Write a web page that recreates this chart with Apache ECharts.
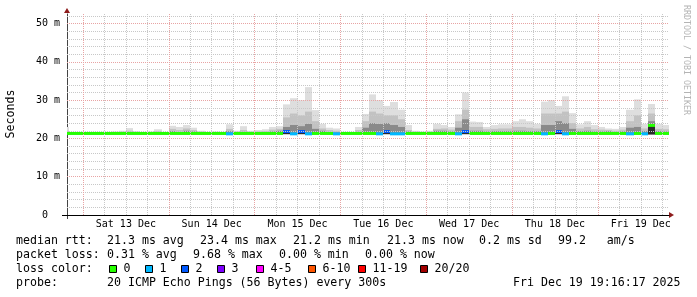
<!DOCTYPE html>
<html><head><meta charset="utf-8">
<script src="https://cdn.jsdelivr.net/npm/echarts@6/dist/echarts.min.js"></script>
<style>html,body{margin:0;padding:0;background:#fff}#c{width:697px;height:297px}</style>
</head><body><div id="c"></div><script>
// ---- axis structure ----
const dayLabels = ['Sat 13 Dec','Sun 14 Dec','Mon 15 Dec','Tue 16 Dec','Wed 17 Dec','Thu 18 Dec','Fri 19 Dec'];
const dayNoonHours = [12, 36, 60, 84, 108, 132, 156];
const dayStartHours = [0, 24, 48, 72, 96, 120, 144];
const yTicks = [0, 10, 20, 30, 40, 50];
const firstBinHour = -6;   // bins of 2 hours, hour 0 = Sat 13 Dec 00:00
const binHours = 2;

// ---- data (ms) per 2h bin ----
const maxRtt = [
 23.0,21.6,21.6,
 21.6,21.6,21.6,21.6,21.8,22.0,22.7,21.9,21.6,21.8,22.4,21.6,
 23.3,23.0,23.5,22.8,22.0,21.7,21.8,21.7,23.7,22.0,23.2,22.0,
 22.2,22.4,23.0,23.2,28.9,30.5,30.0,33.4,27.4,23.8,22.8,22.6,
 21.6,21.6,23.0,26.4,31.5,30.0,28.5,29.5,27.5,23.5,22.0,21.8,
 22.0,23.8,23.5,23.0,26.3,32.0,24.4,24.3,23.0,23.5,23.7,23.7,
 24.5,25.0,24.5,23.8,29.6,30.0,28.5,31.0,26.6,23.7,24.5,23.5,
 23.0,22.6,22.5,23.0,27.5,30.2,23.8,29.0,23.8,23.5];
const midRtt = [
 22.0,21.5,21.5,
 21.5,21.5,21.5,21.5,21.6,21.7,22.0,21.6,21.5,21.6,21.9,21.5,
 22.5,22.2,22.6,22.2,21.7,21.5,21.6,21.5,22.5,21.7,22.2,21.7,
 21.8,21.9,22.3,22.5,25.5,26.5,26.0,27.0,24.5,22.6,22.2,22.0,
 21.5,21.5,22.2,24.5,27.0,26.5,26.0,26.0,25.0,22.2,21.7,21.6,
 21.7,22.5,22.6,22.3,24.5,27.5,23.0,23.0,22.4,22.5,22.6,22.6,
 23.0,23.0,22.8,22.6,26.5,26.5,26.5,27.0,24.0,22.6,23.0,22.4,
 22.3,22.2,22.0,22.3,24.5,26.0,22.6,26.5,22.5,22.4];
const innerRtt = [
 21.6,21.4,21.4,
 21.4,21.4,21.4,21.4,21.5,21.5,21.6,21.4,21.4,21.5,21.5,21.4,
 21.9,21.7,22.0,21.8,21.5,21.4,21.5,21.4,21.9,21.5,21.7,21.5,
 21.6,21.6,21.8,22.0,23.0,23.5,23.2,23.8,22.5,22.0,21.7,21.6,
 21.4,21.4,21.7,22.8,24.0,23.8,24.0,23.5,23.0,21.8,21.5,21.5,
 21.5,22.0,22.0,21.8,22.8,25.0,22.0,22.0,21.8,21.9,21.9,21.9,
 22.0,22.0,21.9,21.9,23.5,23.5,24.5,24.0,22.5,21.9,22.0,21.8,
 21.8,21.9,21.7,21.8,22.8,23.0,21.9,24.5,21.9,21.8];
const medianRtt = [
 21.3,21.3,21.3,
 21.3,21.3,21.3,21.3,21.3,21.3,21.3,21.3,21.3,21.3,21.3,21.3,
 21.3,21.3,21.3,21.3,21.3,21.3,21.3,21.3,21.2,21.3,21.3,21.3,
 21.3,21.3,21.3,21.3,21.8,21.2,21.8,21.2,21.3,21.3,21.3,21.2,
 21.3,21.3,21.3,21.3,21.3,21.2,21.8,21.2,21.2,21.3,21.3,21.3,
 21.3,21.3,21.3,21.3,21.2,21.8,21.3,21.3,21.3,21.3,21.3,21.3,
 21.3,21.3,21.3,21.3,21.2,21.3,21.8,21.2,21.3,21.3,21.3,21.3,
 21.3,21.3,21.3,21.3,21.2,21.3,21.2,23.4,21.3,21.3];
const minRtt = [
 21.1,21.1,21.1,
 21.1,21.1,21.1,21.1,21.1,21.1,21.1,21.1,21.1,21.1,21.1,21.1,
 21.1,21.1,21.1,21.1,21.1,21.1,21.1,21.1,21.1,21.1,21.1,21.1,
 21.1,21.1,21.1,21.1,21.1,21.1,21.1,21.1,21.1,21.1,21.1,21.1,
 21.1,21.1,21.1,21.1,21.1,21.1,21.1,21.1,21.1,21.1,21.1,21.1,
 21.1,21.1,21.1,21.1,21.1,21.1,21.1,21.1,21.1,21.1,21.1,21.1,
 21.1,21.1,21.1,21.1,21.1,21.1,21.1,21.1,21.1,21.1,21.1,21.1,
 21.1,21.1,21.1,21.1,21.1,21.1,21.1,21.0,21.1,21.1];
const lossLevel = [
 0,0,0,
 0,0,0,0,0,0,0,0,0,0,0,0,
 0,0,0,0,0,0,0,0,1,0,0,0,
 0,0,0,0,2,1,2,1,0,0,0,1,
 0,0,0,0,0,1,2,1,1,0,0,0,
 0,0,0,0,1,2,0,0,0,0,0,0,
 0,0,0,0,1,0,2,1,0,0,0,0,
 0,0,0,0,1,0,1,0,0,0];

// ---- legend ----
const lossLabels = ['0','1','2','3','4-5','6-10','11-19','20/20'];
const lossColors = ['#26ff00','#00b8ff','#0059ff','#7e00ff','#ff00ff','#ff5500','#ff0000','#a10000'];

const hourMin = -4.47, hourMax = 163.9;
const MONO = '"DejaVu Sans Mono", monospace';

const bins = maxRtt.map((v, i) => {
  const h = firstBinHour + i * binHours;
  return [h, h + binHours, minRtt[i], medianRtt[i], innerRtt[i], midRtt[i], maxRtt[i], lossLevel[i]];
});

function clipRect(x0, y0, x1, y1, cs) {
  const xa = Math.max(Math.round(Math.min(x0, x1)), cs.x), xb = Math.min(Math.round(Math.max(x0, x1)), cs.x + cs.width);
  const ya = Math.max(Math.min(y0, y1), cs.y), yb = Math.min(Math.max(y0, y1), cs.y + cs.height);
  if (xb <= xa || yb <= ya) return null;
  return {x: xa, y: ya, width: xb - xa, height: yb - ya};
}

function smokeItem(params, api) {
  const cs = params.coordSys;
  const x0 = api.value(0), x1 = api.value(1);
  const lo = api.value(2), med = api.value(3), inn = api.value(4), mid = api.value(5), mx = api.value(6);
  const band = (a, b, color) => {
    const p0 = api.coord([x0, a]), p1 = api.coord([x1, b]);
    const s = clipRect(p0[0], p0[1], p1[0], p1[1], cs);
    return s ? {type: 'rect', shape: s, style: {fill: color}} : null;
  };
  const ch = [band(med, mx, '#dedede'), band(med, mid, '#c2c2c2'), band(med, inn, '#8a8a8a'), band(lo, med, '#2a2a2a')].filter(Boolean);
  return {type: 'group', children: ch};
}

function medianItem(params, api) {
  const cs = params.coordSys;
  const x0 = api.value(0), x1 = api.value(1), med = api.value(3), loss = api.value(7);
  const p0 = api.coord([x0, med]), p1 = api.coord([x1, med]);
  const s = clipRect(p0[0], p0[1] - 1.5, p1[0], p0[1] + 1.5, cs);
  return s ? {type: 'rect', shape: s, style: {fill: lossColors[loss]}} : null;
}

// grid lines
const minorX = [], minorY = [];
for (let h = 6; h < hourMax; h += 6) if (dayStartHours.indexOf(h) < 0) minorX.push(h);
for (let v = 2; v <= 52; v += 2) if (v % 10 !== 0) minorY.push(v);
const minorStyle = {color: '#c8c8c8', type: [1, 1], width: 1};
const majorStyle = {color: '#e8a4a4', type: [1, 1], width: 1};
const gridLines = []
  .concat(minorX.map(h => ({xAxis: h, lineStyle: minorStyle})))
  .concat(minorY.map(v => ({yAxis: v, lineStyle: minorStyle})))
  .concat(dayStartHours.map(h => ({xAxis: h, lineStyle: majorStyle})))
  .concat(yTicks.filter(v => v > 0).map(v => ({yAxis: v, lineStyle: majorStyle})));

// footer text
const F = '11.6px ' + MONO;
function txt(s, x, y, extra) {
  return Object.assign({type: 'text', x: x, y: y, silent: true,
    style: {text: s, font: F, fill: '#000', textAlign: 'left', textVerticalAlign: 'middle', align: 'left', verticalAlign: 'middle'}}, extra || {});
}
const footer = [
  txt('median rtt:', 16, 241), txt('21.3 ms avg', 107, 241), txt('23.4 ms max', 200, 241),
  txt('21.2 ms min', 293, 241), txt('21.3 ms now', 387, 241), txt('0.2 ms sd', 479, 241),
  txt('99.2   am/s', 558, 241),
  txt('packet loss:', 16, 255), txt('0.31 % avg', 107, 255), txt('9.68 % max', 193, 255),
  txt('0.00 % min', 279, 255), txt('0.00 % now', 365, 255),
  txt('loss color:', 16, 269),
  txt('probe:', 16, 283), txt('20 ICMP Echo Pings (56 Bytes) every 300s', 107, 283),
  txt('Fri Dec 19 19:16:17 2025', 513, 283)
];
const sqX = [109, 145, 181, 217, 256, 308, 358, 420];
lossLabels.forEach((l, i) => {
  footer.push({type: 'rect', silent: true, shape: {x: sqX[i] + 0.5, y: 265.5, width: 7, height: 7},
    style: {fill: lossColors[i], stroke: '#000', lineWidth: 1}});
  footer.push(txt(l, sqX[i] + 14.5, 269));
});
footer.push({type: 'text', x: 11, y: 114, rotation: Math.PI / 2, silent: true,
  style: {text: 'Seconds', font: F, fill: '#000', textAlign: 'center', textVerticalAlign: 'middle', align: 'center', verticalAlign: 'middle'}});
footer.push({type: 'text', x: 686, y: 60, rotation: -Math.PI / 2, silent: true,
  style: {text: 'RRDTOOL / TOBI OETIKER', font: '8.3px ' + MONO, fill: '#b4b4b4', textAlign: 'center', textVerticalAlign: 'middle', align: 'center', verticalAlign: 'middle'}});
// axis arrows and small axis overhangs
footer.push({type: 'polygon', silent: true, shape: {points: [[64, 13], [70, 13], [67, 8]]}, style: {fill: '#8e1c1c'}});
footer.push({type: 'polygon', silent: true, shape: {points: [[669, 212], [669, 218], [674, 215]]}, style: {fill: '#8e1c1c'}});
footer.push({type: 'line', silent: true, shape: {x1: 62, y1: 215.5, x2: 67, y2: 215.5}, style: {stroke: '#000', lineWidth: 1}});
footer.push({type: 'line', silent: true, shape: {x1: 67.5, y1: 215, x2: 67.5, y2: 219}, style: {stroke: '#444', lineWidth: 1}});

const chart = echarts.init(document.getElementById('c'), null, {renderer: 'canvas'});
chart.setOption({
  animation: false,
  backgroundColor: '#ffffff',
  grid: {left: 67, right: 28, top: 14, bottom: 82},
  xAxis: {
    type: 'value', min: hourMin, max: hourMax,
    splitLine: {show: false}, axisTick: {show: false},
    axisLine: {show: true, onZero: false, lineStyle: {color: '#000', width: 1}},
    axisLabel: {customValues: dayNoonHours, formatter: v => dayLabels[dayNoonHours.indexOf(v)] || '',
      fontFamily: MONO, fontSize: 10, color: '#000', margin: 4}
  },
  yAxis: {
    type: 'value', min: 0, max: 52.5,
    splitLine: {show: false}, axisTick: {show: false},
    axisLine: {show: true, onZero: false, lineStyle: {color: '#444', width: 1}},
    axisLabel: {customValues: yTicks, formatter: v => v === 0 ? '0  ' : v + ' m',
      fontFamily: MONO, fontSize: 10, color: '#000', margin: 7}
  },
  series: [
    {type: 'custom', name: 'smoke', z: 1, renderItem: smokeItem, data: bins, encode: {x: [0, 1], y: [2, 6]}, silent: true},
    {type: 'line', name: 'grid', z: 2, data: [[hourMin, 0]], symbol: 'none', lineStyle: {opacity: 0}, silent: true,
      markLine: {silent: true, symbol: ['none', 'none'], label: {show: false}, animation: false, data: gridLines}},
    {type: 'custom', name: 'median', z: 3, renderItem: medianItem, data: bins, encode: {x: [0, 1], y: [3]}, silent: true}
  ],
  graphic: footer
});
</script></body></html>
